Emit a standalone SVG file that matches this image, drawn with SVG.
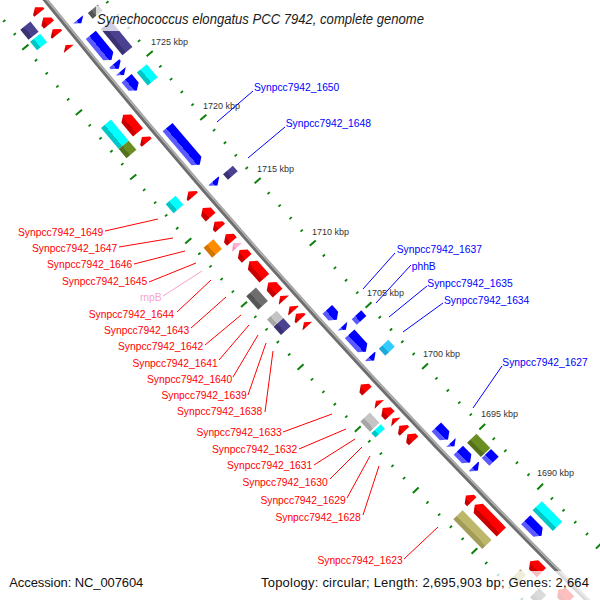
<svg xmlns="http://www.w3.org/2000/svg" width="600" height="600" viewBox="0 0 600 600">
<style>
text{font-family:"Liberation Sans",Arial,sans-serif}
.mj line{stroke:#0b800b;stroke-width:2}
.mn line{stroke:#0b800b;stroke-width:1.8}
.lr{font-size:10.3px;fill:#ff0000;text-anchor:end}
.lb{font-size:10.3px;fill:#0000ff}
.lp{font-size:10.3px;fill:#f7a3cc;text-anchor:end}
.kl{font-size:9px;fill:#333333}
.cr{stroke:#ff0000;stroke-width:1}
.cb{stroke:#0000ff;stroke-width:1}
.cp{stroke:#f7a3cc;stroke-width:1}
.red{fill:url(#gr)}
.blue{fill:url(#gb)}
.cyan{fill:url(#gc)}
.purple{fill:url(#gp)}
.gray{fill:url(#gg)}
.lgray{fill:url(#gl)}
.olive{fill:url(#go)}
.orange{fill:url(#gor)}
.khaki{fill:url(#gk)}
.sky{fill:url(#gs)}
.pink{fill:url(#gpk)}
.box{fill:#ffffff;fill-opacity:0.75}
</style>
<defs>
<linearGradient id="gr"><stop offset="0.64" stop-color="#ff0000"/><stop offset="0.64" stop-color="#c80000"/></linearGradient>
<linearGradient id="gb"><stop offset="0.64" stop-color="#0000ff"/><stop offset="0.64" stop-color="#5a5aff"/></linearGradient>
<linearGradient id="gc"><stop offset="0.64" stop-color="#00ffff"/><stop offset="0.64" stop-color="#00c6c6"/></linearGradient>
<linearGradient id="gp"><stop offset="0.64" stop-color="#4a4190"/><stop offset="0.64" stop-color="#3a3272"/></linearGradient>
<linearGradient id="gg"><stop offset="0.64" stop-color="#6e6e6e"/><stop offset="0.64" stop-color="#555555"/></linearGradient>
<linearGradient id="gl"><stop offset="0.64" stop-color="#c4c4c4"/><stop offset="0.64" stop-color="#a6a6a6"/></linearGradient>
<linearGradient id="go"><stop offset="0.64" stop-color="#6b8e23"/><stop offset="0.64" stop-color="#55711c"/></linearGradient>
<linearGradient id="gor"><stop offset="0.64" stop-color="#ff8c00"/><stop offset="0.64" stop-color="#d47400"/></linearGradient>
<linearGradient id="gk"><stop offset="0.64" stop-color="#bdb76b"/><stop offset="0.64" stop-color="#a29c58"/></linearGradient>
<linearGradient id="gs"><stop offset="0.64" stop-color="#33ccff"/><stop offset="0.64" stop-color="#1aa8dd"/></linearGradient>
<linearGradient id="gpk"><stop offset="0.64" stop-color="#ffb0d4"/><stop offset="0.64" stop-color="#f090bb"/></linearGradient>
<g id="tkn" class="mn"><line x1="7155.5" x2="7158.5" y1="0" y2="0"/><line x1="7247.5" x2="7250.5" y1="0" y2="0"/></g>
<g id="tkm" class="mj"><line x1="7153" x2="7161" y1="0" y2="0"/><line x1="7245" x2="7253" y1="0" y2="0"/></g>
</defs>
<rect width="600" height="600" fill="#ffffff"/>
<g id="map" transform="translate(5655.5 -4519)">
<g id="ruler">
<use href="#tkn" transform="rotate(141.2238)"/>
<use href="#tkn" transform="rotate(141.0904)"/>
<use href="#tkm" transform="rotate(140.957)"/>
<use href="#tkn" transform="rotate(140.8236)"/>
<use href="#tkn" transform="rotate(140.6902)"/>
<use href="#tkn" transform="rotate(140.5568)"/>
<use href="#tkn" transform="rotate(140.4234)"/>
<use href="#tkm" transform="rotate(140.29)"/>
<use href="#tkn" transform="rotate(140.1566)"/>
<use href="#tkn" transform="rotate(140.0232)"/>
<use href="#tkn" transform="rotate(139.8898)"/>
<use href="#tkn" transform="rotate(139.7564)"/>
<use href="#tkm" transform="rotate(139.623)"/>
<use href="#tkn" transform="rotate(139.4896)"/>
<use href="#tkn" transform="rotate(139.3562)"/>
<use href="#tkn" transform="rotate(139.2228)"/>
<use href="#tkn" transform="rotate(139.0894)"/>
<use href="#tkm" transform="rotate(138.956)"/>
<use href="#tkn" transform="rotate(138.8226)"/>
<use href="#tkn" transform="rotate(138.6892)"/>
<use href="#tkn" transform="rotate(138.5558)"/>
<use href="#tkn" transform="rotate(138.4224)"/>
<use href="#tkm" transform="rotate(138.289)"/>
<use href="#tkn" transform="rotate(138.1556)"/>
<use href="#tkn" transform="rotate(138.0222)"/>
<use href="#tkn" transform="rotate(137.8888)"/>
<use href="#tkn" transform="rotate(137.7554)"/>
<use href="#tkm" transform="rotate(137.622)"/>
<use href="#tkn" transform="rotate(137.4886)"/>
<use href="#tkn" transform="rotate(137.3552)"/>
<use href="#tkn" transform="rotate(137.2218)"/>
<use href="#tkn" transform="rotate(137.0884)"/>
<use href="#tkm" transform="rotate(136.955)"/>
<use href="#tkn" transform="rotate(136.8216)"/>
<use href="#tkn" transform="rotate(136.6882)"/>
<use href="#tkn" transform="rotate(136.5548)"/>
<use href="#tkn" transform="rotate(136.4214)"/>
<use href="#tkm" transform="rotate(136.288)"/>
<use href="#tkn" transform="rotate(136.1546)"/>
<use href="#tkn" transform="rotate(136.0212)"/>
<use href="#tkn" transform="rotate(135.8878)"/>
<use href="#tkn" transform="rotate(135.7544)"/>
<use href="#tkm" transform="rotate(135.621)"/>
<use href="#tkn" transform="rotate(135.4876)"/>
<use href="#tkn" transform="rotate(135.3542)"/>
<use href="#tkn" transform="rotate(135.2208)"/>
<use href="#tkn" transform="rotate(135.0874)"/>
<use href="#tkm" transform="rotate(134.954)"/>
<use href="#tkn" transform="rotate(134.8206)"/>
</g>
<g id="backbone">
<circle r="7204.5" fill="none" stroke="#6e6e6e" stroke-width="3"/>
<circle r="7202" fill="none" stroke="#a8a8a8" stroke-width="2"/>
</g>
<g id="ringB">
<g id="B1" transform="rotate(140.825) translate(7172.5 0)"><rect class="gray" x="-6.5" y="-3.75" width="13" height="7.5"/></g>
<g id="B2" transform="rotate(140.555) translate(7172.5 0)"><rect class="purple" x="-6.5" y="-17" width="13" height="34"/></g>
<g id="B3" transform="rotate(140.172) translate(7172.5 0)"><rect class="cyan" x="-6.5" y="-8.5" width="13" height="17"/></g>
<g id="B4" transform="rotate(139.146) translate(7172.5 0)"><rect class="purple" x="-6.5" y="-3.75" width="13" height="7.5"/></g>
<g id="B5" transform="rotate(137.599) translate(7172.5 0)"><rect class="blue" x="-6.5" y="-3.75" width="13" height="7.5"/></g>
<g id="B6" transform="rotate(137.271) translate(7172.5 0)"><rect class="sky" x="-6.5" y="-4.75" width="13" height="9.5"/></g>
<g id="B7" transform="rotate(136.200) translate(7172.5 0)"><rect class="olive" x="-6.5" y="-10" width="13" height="20"/></g>
<g id="B8" transform="rotate(136.067) translate(7172.5 0)"><rect class="blue" x="-6.5" y="-5.5" width="13" height="11"/></g>
<g id="B9" transform="rotate(135.413) translate(7172.5 0)"><rect class="cyan" x="-6.5" y="-14.5" width="13" height="29"/></g>
</g>
<g id="ringA">
<g id="A1" transform="rotate(140.844) translate(7190.5 0)"><polygon class="blue" points="-6.5,2.5 6.5,2.5 0,-2.5"/></g>
<g id="A2" transform="rotate(140.575) translate(7190.5 0)"><polygon class="blue" points="-6.5,16.25 6.5,16.25 6.5,-11.25 0,-16.25 -6.5,-11.25"/></g>
<g id="A3" transform="rotate(140.382) translate(7190.5 0)"><polygon class="blue" points="-6.5,3.5 6.5,3.5 6.5,1.5 0,-3.5 -6.5,1.5"/></g>
<g id="A4" transform="rotate(140.309) translate(7190.5 0)"><polygon class="blue" points="-6.5,2.5 6.5,2.5 0,-2.5"/></g>
<g id="A5" transform="rotate(140.193) translate(7190.5 0)"><polygon class="blue" points="-6.5,8 6.5,8 6.5,-3 0,-8 -6.5,-3"/></g>
<g id="A6" transform="rotate(139.551) translate(7190.5 0)"><polygon class="blue" points="-6.5,24.75 6.5,24.75 6.5,-19.75 0,-24.75 -6.5,-19.75"/></g>
<g id="A7" transform="rotate(139.161) translate(7190.5 0)"><polygon class="blue" points="-6.5,3 6.5,3 6.5,2 0,-3 -6.5,2"/></g>
<g id="A8" transform="rotate(137.761) translate(7190.5 0)"><polygon class="blue" points="-6.5,7 6.5,7 6.5,-2 0,-7 -6.5,-2"/></g>
<g id="A9" transform="rotate(137.617) translate(7190.5 0)"><polygon class="blue" points="-6.5,2.5 6.5,2.5 0,-2.5"/></g>
<g id="A11" transform="rotate(137.457) translate(7190.5 0)"><polygon class="blue" points="-6.5,12 6.5,12 6.5,-7 0,-12 -6.5,-7"/></g>
<g id="A12" transform="rotate(137.288) translate(7190.5 0)"><polygon class="blue" points="-6.5,3 6.5,3 6.5,2 0,-3 -6.5,2"/></g>
<g id="A13" transform="rotate(136.471) translate(7190.5 0)"><polygon class="blue" points="-6.5,8.5 6.5,8.5 6.5,-3.5 0,-8.5 -6.5,-3.5"/></g>
<g id="A14" transform="rotate(136.349) translate(7190.5 0)"><polygon class="blue" points="-6.5,2.5 6.5,2.5 0,-2.5"/></g>
<g id="A15" transform="rotate(136.217) translate(7190.5 0)"><polygon class="blue" points="-6.5,8.5 6.5,8.5 6.5,-3.5 0,-8.5 -6.5,-3.5"/></g>
<g id="A16" transform="rotate(136.084) translate(7190.5 0)"><polygon class="blue" points="-6.5,3 6.5,3 6.5,2 0,-3 -6.5,2"/></g>
<g id="A17" transform="rotate(135.423) translate(7190.5 0)"><polygon class="blue" points="-6.5,11.25 6.5,11.25 6.5,-6.25 0,-11.25 -6.5,-6.25"/></g>
</g>
<g id="ringC">
<g id="C1" transform="rotate(141.127) translate(7216.5 0)"><polygon class="red" points="-6.5,-3.5 6.5,-3.5 6.5,-1.5 0,3.5 -6.5,-1.5"/></g>
<g id="C2" transform="rotate(141.014) translate(7216.5 0)"><polygon class="red" points="-6.5,-4.5 6.5,-4.5 6.5,-0.5 0,4.5 -6.5,-0.5"/></g>
<g id="C3" transform="rotate(140.904) translate(7216.5 0)"><polygon class="red" points="-6.5,-3.5 6.5,-3.5 6.5,-1.5 0,3.5 -6.5,-1.5"/></g>
<g id="C4" transform="rotate(140.749) translate(7216.5 0)"><polygon class="red" points="-6.5,-2.5 6.5,-2.5 0,2.5"/></g>
<g id="C5" transform="rotate(139.960) translate(7216.5 0)"><polygon class="red" points="-6.5,-11.5 6.5,-11.5 6.5,6.5 0,11.5 -6.5,6.5"/></g>
<g id="C6" transform="rotate(139.791) translate(7216.5 0)"><polygon class="red" points="-6.5,-3.75 6.5,-3.75 6.5,-1.25 0,3.75 -6.5,-1.25"/></g>
<g id="C7" transform="rotate(139.224) translate(7216.5 0)"><polygon class="red" points="-6.5,-3.5 6.5,-3.5 6.5,-1.5 0,3.5 -6.5,-1.5"/></g>
<g id="C8" transform="rotate(139.030) translate(7216.5 0)"><polygon class="red" points="-6.5,-6 6.5,-6 6.5,1 0,6 -6.5,1"/></g>
<g id="C9" transform="rotate(138.901) translate(7216.5 0)"><polygon class="red" points="-6.5,-4.25 6.5,-4.25 6.5,-0.75 0,4.25 -6.5,-0.75"/></g>
<g id="C10" transform="rotate(138.763) translate(7216.5 0)"><polygon class="red" points="-6.5,-4.75 6.5,-4.75 6.5,-0.25 0,4.75 -6.5,-0.25"/></g>
<g id="rnpB" transform="rotate(138.687) translate(7216.5 0)"><polygon class="pink" points="-6.5,-3 6.5,-3 0,3"/></g>
<g id="C11" transform="rotate(138.591) translate(7216.5 0)"><polygon class="red" points="-6.5,-5.5 6.5,-5.5 6.5,0.5 0,5.5 -6.5,0.5"/></g>
<g id="C12" transform="rotate(138.426) translate(7216.5 0)"><polygon class="red" points="-6.5,-11.25 6.5,-11.25 6.5,6.25 0,11.25 -6.5,6.25"/></g>
<g id="C13" transform="rotate(138.234) translate(7216.5 0)"><polygon class="red" points="-6.5,-7 6.5,-7 6.5,2 0,7 -6.5,2"/></g>
<g id="C14" transform="rotate(138.125) translate(7216.5 0)"><polygon class="red" points="-6.5,-2.75 6.5,-2.75 6.5,-2.25 0,2.75 -6.5,-2.25"/></g>
<g id="C15" transform="rotate(138.012) translate(7216.5 0)"><polygon class="red" points="-6.5,-3 6.5,-3 6.5,-2 0,3 -6.5,-2"/></g>
<g id="C16" transform="rotate(137.931) translate(7216.5 0)"><polygon class="red" points="-6.5,-3.5 6.5,-3.5 6.5,-1.5 0,3.5 -6.5,-1.5"/></g>
<g id="C17" transform="rotate(137.846) translate(7216.5 0)"><polygon class="red" points="-6.5,-2.5 6.5,-2.5 0,2.5"/></g>
<g id="C18" transform="rotate(137.161) translate(7216.5 0)"><polygon class="red" points="-6.5,-4.5 6.5,-4.5 6.5,-0.5 0,4.5 -6.5,-0.5"/></g>
<g id="C19" transform="rotate(137.001) translate(7216.5 0)"><polygon class="red" points="-6.5,-2.5 6.5,-2.5 0,2.5"/></g>
<g id="C20" transform="rotate(136.900) translate(7216.5 0)"><polygon class="red" points="-6.5,-5.25 6.5,-5.25 6.5,0.25 0,5.25 -6.5,0.25"/></g>
<g id="C21" transform="rotate(136.809) translate(7216.5 0)"><polygon class="red" points="-6.5,-2.5 6.5,-2.5 0,2.5"/></g>
<g id="C22" transform="rotate(136.719) translate(7216.5 0)"><polygon class="red" points="-6.5,-3.75 6.5,-3.75 6.5,-1.25 0,3.75 -6.5,-1.25"/></g>
<g id="C23" transform="rotate(136.619) translate(7216.5 0)"><polygon class="red" points="-6.5,-4.5 6.5,-4.5 6.5,-0.5 0,4.5 -6.5,-0.5"/></g>
<g id="C24" transform="rotate(135.949) translate(7216.5 0)"><polygon class="red" points="-6.5,-4.25 6.5,-4.25 6.5,-0.75 0,4.25 -6.5,-0.75"/></g>
<g id="C25" transform="rotate(135.730) translate(7216.5 0)"><polygon class="red" points="-6.5,-19 6.5,-19 6.5,14 0,19 -6.5,14"/></g>
<g id="C26" transform="rotate(135.190) translate(7216.5 0)"><polygon class="red" points="-6.5,-8 6.5,-8 6.5,3 0,8 -6.5,3"/></g>
<g id="C27" transform="rotate(134.873) translate(7216.5 0)"><polygon class="red" points="-6.5,-8 6.5,-8 6.5,3 0,8 -6.5,3"/></g>
</g>
<g id="ringD">
<g id="D1" transform="rotate(141.038) translate(7235.5 0)"><rect class="purple" x="-6.5" y="-6.5" width="13" height="13"/></g>
<g id="D2" transform="rotate(140.923) translate(7235.5 0)"><rect class="cyan" x="-6.5" y="-5.5" width="13" height="11"/></g>
<g id="D3" transform="rotate(139.975) translate(7235.5 0)"><rect class="cyan" x="-6.5" y="-13.75" width="13" height="27.5"/></g>
<g id="D4" transform="rotate(139.818) translate(7235.5 0)"><rect class="olive" x="-6.5" y="-6" width="13" height="12"/></g>
<g id="D5" transform="rotate(139.245) translate(7235.5 0)"><rect class="cyan" x="-6.5" y="-6" width="13" height="12"/></g>
<g id="D6" transform="rotate(138.784) translate(7235.5 0)"><rect class="orange" x="-6.5" y="-6.5" width="13" height="13"/></g>
<g id="D8" transform="rotate(138.254) translate(7235.5 0)"><rect class="gray" x="-6.5" y="-9" width="13" height="18"/></g>
<g id="D9" transform="rotate(138.041) translate(7235.5 0)"><rect class="lgray" x="-6.5" y="-4.75" width="13" height="9.5"/></g>
<g id="D10" transform="rotate(137.957) translate(7235.5 0)"><rect class="purple" x="-6.5" y="-5.5" width="13" height="11"/></g>
<g id="D11" transform="rotate(136.929) translate(7235.5 0)"><rect class="lgray" x="-6.5" y="-7" width="13" height="14"/></g>
<g id="D12" transform="rotate(136.834) translate(7235.5 0)"><rect class="cyan" x="-6.5" y="-3" width="13" height="6"/></g>
<g id="D13" transform="rotate(135.753) translate(7235.5 0)"><rect class="khaki" x="-6.5" y="-20.75" width="13" height="41.5"/></g>
<g id="D14" transform="rotate(135.230) translate(7235.5 0)"><rect class="khaki" x="-6.5" y="-4" width="13" height="8"/></g>
<g id="D15" transform="rotate(135.012) translate(7235.5 0)"><rect class="gray" x="-6.5" y="-5" width="13" height="10"/></g>
</g>
</g>
<g id="tick-labels" class="kl">
<text x="151" y="45">1725 kbp</text>
<text x="203" y="109">1720 kbp</text>
<text x="257" y="172">1715 kbp</text>
<text x="312" y="234.5">1710 kbp</text>
<text x="367" y="296">1705 kbp</text>
<text x="423" y="357">1700 kbp</text>
<text x="481" y="417">1695 kbp</text>
<text x="537" y="476">1690 kbp</text>
</g>
<g id="connectors">
<line class="cr" x1="105" y1="231" x2="158" y2="219"/>
<line class="cr" x1="119" y1="247" x2="173" y2="238"/>
<line class="cr" x1="134" y1="264" x2="185" y2="251"/>
<line class="cr" x1="149" y1="282" x2="196" y2="263"/>
<line class="cp" x1="163" y1="296" x2="202" y2="271"/>
<line class="cr" x1="177" y1="312" x2="211" y2="280"/>
<line class="cr" x1="191" y1="328" x2="226" y2="297"/>
<line class="cr" x1="205" y1="345" x2="241" y2="315"/>
<line class="cr" x1="219" y1="360" x2="249" y2="325"/>
<line class="cr" x1="233" y1="377" x2="258" y2="335"/>
<line class="cr" x1="248" y1="395" x2="266" y2="343"/>
<line class="cr" x1="265" y1="412" x2="273" y2="351"/>
<line class="cr" x1="283" y1="432" x2="332" y2="414"/>
<line class="cr" x1="299" y1="449" x2="346" y2="429"/>
<line class="cr" x1="314" y1="465" x2="355" y2="439"/>
<line class="cr" x1="330" y1="479" x2="362" y2="447"/>
<line class="cr" x1="347" y1="498" x2="370" y2="456"/>
<line class="cr" x1="363" y1="515" x2="379" y2="466"/>
<line class="cr" x1="404" y1="559" x2="438" y2="527"/>
<line class="cb" x1="217" y1="122" x2="253" y2="91"/>
<line class="cb" x1="248" y1="158" x2="285" y2="127"/>
<line class="cb" x1="363" y1="289" x2="395" y2="253"/>
<line class="cb" x1="376" y1="303" x2="411" y2="265"/>
<line class="cb" x1="389" y1="317" x2="427" y2="286"/>
<line class="cb" x1="403" y1="332" x2="443" y2="303"/>
<line class="cb" x1="473" y1="408" x2="502" y2="366"/>
</g>
<g id="labels">
<text class="lr" x="103.3" y="235.5">Synpcc7942_1649</text>
<text class="lr" x="117.3" y="251.8">Synpcc7942_1647</text>
<text class="lr" x="132.3" y="268">Synpcc7942_1646</text>
<text class="lr" x="147.3" y="284.5">Synpcc7942_1645</text>
<text class="lp" x="161.7" y="301">rnpB</text>
<text class="lr" x="174" y="317.5">Synpcc7942_1644</text>
<text class="lr" x="189.3" y="334">Synpcc7942_1643</text>
<text class="lr" x="203.3" y="350">Synpcc7942_1642</text>
<text class="lr" x="217.7" y="366.5">Synpcc7942_1641</text>
<text class="lr" x="232.3" y="382.5">Synpcc7942_1640</text>
<text class="lr" x="246.7" y="399">Synpcc7942_1639</text>
<text class="lr" x="262.3" y="415">Synpcc7942_1638</text>
<text class="lr" x="281.7" y="436">Synpcc7942_1633</text>
<text class="lr" x="297.3" y="453">Synpcc7942_1632</text>
<text class="lr" x="312.3" y="469">Synpcc7942_1631</text>
<text class="lr" x="327.7" y="485.5">Synpcc7942_1630</text>
<text class="lr" x="345.7" y="503.5">Synpcc7942_1629</text>
<text class="lr" x="360.7" y="520.5">Synpcc7942_1628</text>
<text class="lr" x="402.7" y="563.5">Synpcc7942_1623</text>
<text class="lb" x="254" y="91">Synpcc7942_1650</text>
<text class="lb" x="285.7" y="127">Synpcc7942_1648</text>
<text class="lb" x="396.7" y="253">Synpcc7942_1637</text>
<text class="lb" x="411.7" y="269.5">phhB</text>
<text class="lb" x="427.3" y="287">Synpcc7942_1635</text>
<text class="lb" x="444" y="304">Synpcc7942_1634</text>
<text class="lb" x="502.3" y="366">Synpcc7942_1627</text>
</g>
<g id="title">
<rect class="box" x="96" y="6" width="333" height="25"/>
<text x="97" y="23.5" font-size="14" font-style="italic" fill="#1a1a1a" textLength="327" lengthAdjust="spacingAndGlyphs">Synechococcus elongatus PCC 7942, complete genome</text>
</g>
<g id="legend">
<rect class="box" x="5" y="571" width="143" height="29"/>
<rect class="box" x="256" y="571" width="342" height="29"/>
<text x="9.3" y="587" font-size="13" fill="#111111" textLength="134">Accession: NC_007604</text>
<text x="261" y="587" font-size="13" fill="#111111" textLength="328">Topology: circular; Length: 2,695,903 bp; Genes: 2,664</text>
</g>
</svg>
